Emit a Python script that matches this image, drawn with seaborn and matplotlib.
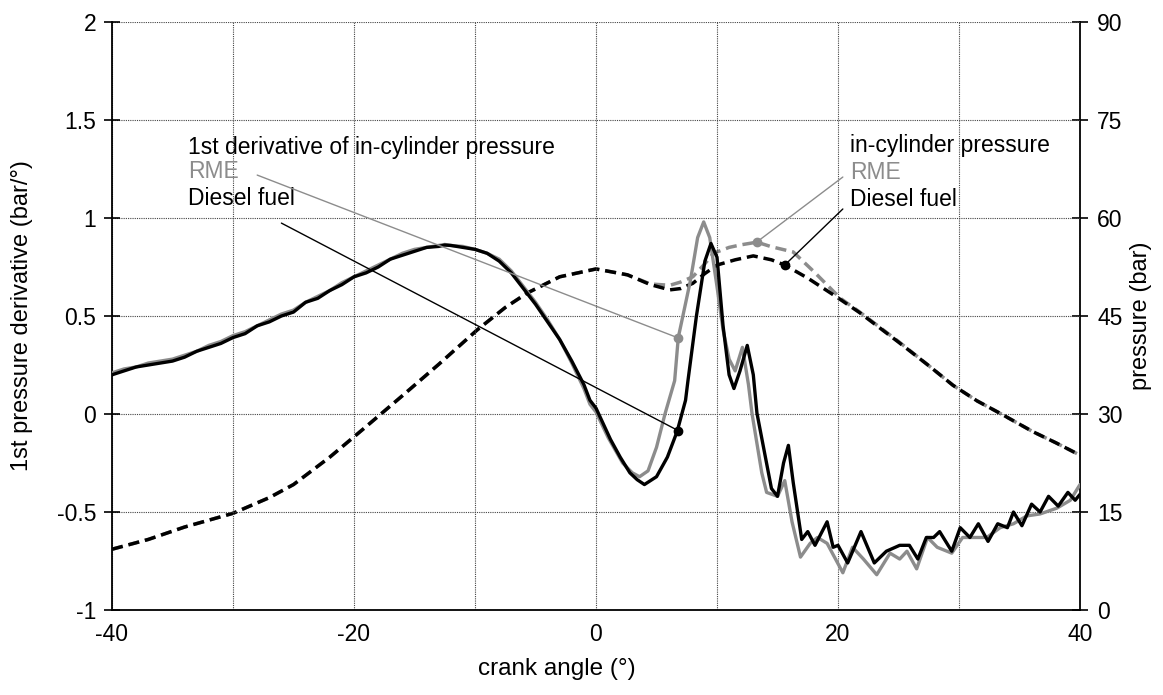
import matplotlib
matplotlib.use("Agg")
import matplotlib.pyplot as plt
import seaborn as sns
from matplotlib.ticker import MultipleLocator, FixedLocator

# ---------------- data ----------------
# 1st pressure derivative (bar/deg) - Diesel fuel
deriv_diesel_x = [-40, -39, -38, -37, -36, -35, -34, -33, -32, -31, -30, -29, -28, -27, -26, -25,
                  -24, -23, -22, -21, -20, -19, -18, -17, -16, -15, -14, -13, -12.5, -12, -11,
                  -10, -9, -8, -7, -6, -5, -4, -3, -2, -1, -0.5, 0, 1.2, 2.0, 2.8, 3.4, 4.0, 5.0, 5.9,
                  6.7, 7.4, 7.6, 8.3, 9.0, 9.5, 10.0, 10.5, 11.0, 11.4, 11.9, 12.5, 13.0, 13.3,
                  14.0, 14.5, 15.0, 15.5, 15.9, 16.3, 17.0, 17.5, 18.1, 19.1, 19.6, 20.0, 20.8,
                  21.9, 23.0, 24.0, 25.1, 25.9, 26.6, 27.3, 27.9, 28.4, 29.4, 30.1, 30.9, 31.6,
                  32.4, 33.2, 34.0, 34.5, 35.2, 36.0, 36.7, 37.4, 38.2, 39.0, 39.6, 40.0]
deriv_diesel_y = [0.20, 0.22, 0.24, 0.25, 0.26, 0.27, 0.29, 0.32, 0.34, 0.36, 0.39, 0.41, 0.45, 0.47,
                  0.50, 0.52, 0.57, 0.59, 0.63, 0.66, 0.70, 0.72, 0.75, 0.79, 0.81, 0.83, 0.85, 0.855,
                  0.862, 0.86, 0.85, 0.84, 0.82, 0.78, 0.72, 0.64, 0.56, 0.47, 0.38, 0.27, 0.15, 0.07,
                  0.03, -0.13, -0.22, -0.30, -0.335, -0.36, -0.32, -0.22, -0.09, 0.07, 0.17, 0.50, 0.78,
                  0.87, 0.80, 0.45, 0.20, 0.13, 0.22, 0.35, 0.20, 0.005, -0.22, -0.38, -0.42, -0.25,
                  -0.16, -0.35, -0.64, -0.60, -0.67, -0.55, -0.68, -0.67, -0.76, -0.60, -0.76, -0.70,
                  -0.67, -0.67, -0.74, -0.63, -0.63, -0.60, -0.70, -0.58, -0.63, -0.56, -0.65, -0.56,
                  -0.58, -0.50, -0.57, -0.46, -0.50, -0.42, -0.47, -0.40, -0.44, -0.41]

# 1st pressure derivative (bar/deg) - RME
deriv_rme_x = [-40, -39, -38, -37, -36, -35, -34, -33, -32, -31, -30, -29, -28, -27, -26, -25,
               -24, -23, -22, -21, -20, -19, -18, -17, -16, -15, -14, -13, -12.5, -12, -11,
               -10, -9, -8, -7, -6, -5, -4, -3, -2, -1, -0.5, 0, 1.0, 2.2, 3.0, 3.6, 4.3, 5.0, 5.7,
               6.5, 6.8, 7.8, 8.4, 8.9, 9.4, 10.0, 10.5, 11.0, 11.5, 12.1, 12.6, 12.9, 13.7,
               14.1, 15.0, 15.6, 16.2, 16.9, 17.7, 18.3, 19.1, 20.4, 21.2, 22.1, 23.2, 24.3,
               25.1, 25.7, 26.5, 27.4, 28.2, 29.4, 30.3, 31.2, 32.3, 33.4, 34.5, 35.6, 36.7,
               38.1, 39.2, 40.0]
deriv_rme_y = [0.21, 0.23, 0.24, 0.26, 0.27, 0.28, 0.30, 0.32, 0.35, 0.37, 0.40, 0.42, 0.45, 0.48,
               0.51, 0.53, 0.57, 0.60, 0.63, 0.67, 0.70, 0.73, 0.76, 0.79, 0.82, 0.84, 0.85, 0.86,
               0.865, 0.86, 0.855, 0.84, 0.82, 0.79, 0.73, 0.65, 0.57, 0.48, 0.38, 0.26, 0.13, 0.05,
               0.01, -0.12, -0.25, -0.30, -0.32, -0.29, -0.17, 0.00, 0.17, 0.39, 0.68, 0.90, 0.98,
               0.90, 0.65, 0.43, 0.28, 0.22, 0.34, 0.15, 0.00, -0.30, -0.40, -0.42, -0.34, -0.55,
               -0.73, -0.66, -0.63, -0.66, -0.81, -0.68, -0.74, -0.82, -0.71, -0.74, -0.70, -0.79,
               -0.63, -0.68, -0.71, -0.63, -0.63, -0.63, -0.58, -0.56, -0.52, -0.51, -0.48, -0.44,
               -0.36]

# in-cylinder pressure (bar) - Diesel fuel
press_diesel_x = [-40, -37, -34, -30, -27, -25, -22, -19.3, -16, -13, -9.8, -7.5, -5.7, -3, 0,
                  2.6, 4.5, 6.1, 7.0, 8.0, 9.0, 10.0, 11.5, 13.0, 14.5, 15.6, 17.5, 19.9, 21.8,
                  25.0, 27.5, 29.5, 31.5, 33.4, 36.1, 38.0, 40.0]
press_diesel_y = [9.3, 10.8, 12.7, 14.8, 17.2, 19.2, 23.4, 27.6, 32.8, 37.6, 42.9, 46.3, 48.5,
                  51.0, 52.2, 51.3, 49.8, 49.0, 49.2, 50.0, 51.5, 52.8, 53.6, 54.2, 53.6, 52.8,
                  50.8, 47.9, 45.5, 41.0, 37.4, 34.4, 32.0, 30.1, 27.3, 25.6, 23.7]

# in-cylinder pressure (bar) - RME
press_rme_x = [-40, -37, -34, -30, -27, -25, -22, -19.3, -16, -13, -9.8, -7.5, -5.7, -3, 0,
               2.6, 4.5, 6.1, 7.0, 8.0, 9.0, 9.7, 11.0, 12.0, 13.3, 14.5, 16.3, 18.0, 20.2,
               21.8, 25.0, 27.5, 29.5, 31.5, 33.4, 36.1, 38.0, 40.0]
press_rme_y = [9.3, 10.8, 12.7, 14.8, 17.2, 19.2, 23.4, 27.6, 32.8, 37.6, 42.9, 46.3, 48.5,
               51.0, 52.2, 51.3, 49.9, 49.7, 50.2, 51.0, 53.0, 54.6, 55.5, 55.9, 56.3, 55.6,
               54.8, 51.8, 47.7, 45.6, 41.1, 37.4, 34.4, 32.0, 30.1, 27.3, 25.6, 23.7]

x_ticks = [-40, -20, 0, 20, 40]
y_left_ticks = [-1, -0.5, 0, 0.5, 1, 1.5, 2]
y_left_labels = ["-1", "-0.5", "0", "0.5", "1", "1.5", "2"]
y_right_ticks = [0, 15, 30, 45, 60, 75, 90]

GRAY = "#8c8c8c"
BLACK = "#000000"

# ---------------- style ----------------
sns.set_style("white")
plt.rcParams["font.family"] = ["Liberation Sans", "DejaVu Sans"]
plt.rcParams["axes.unicode_minus"] = False
plt.rcParams["text.color"] = "black"
plt.rcParams["axes.labelcolor"] = "black"
plt.rcParams["xtick.color"] = "black"
plt.rcParams["ytick.color"] = "black"

fig = plt.figure(figsize=(11.63, 6.95), dpi=100)
ax = fig.add_axes([112 / 1163, 1 - 610 / 695, 968 / 1163, 588 / 695])
ax2 = ax.twinx()
ax.set_zorder(ax2.get_zorder() + 1)
ax.patch.set_visible(False)

# derivative curves (left axis)
sns.lineplot(x=deriv_rme_x, y=deriv_rme_y, ax=ax, color=GRAY, lw=2.4, sort=False,
             estimator=None, zorder=3)
sns.lineplot(x=deriv_diesel_x, y=deriv_diesel_y, ax=ax, color=BLACK, lw=2.4, sort=False,
             estimator=None, zorder=4)

# pressure curves (right axis)
sns.lineplot(x=press_rme_x, y=press_rme_y, ax=ax2, color=GRAY, lw=2.5, sort=False,
             estimator=None, zorder=3)
sns.lineplot(x=press_diesel_x, y=press_diesel_y, ax=ax2, color=BLACK, lw=2.5, sort=False,
             estimator=None, zorder=4)
for ln in ax2.get_lines():
    ln.set_linestyle((0, (3.2, 1.7)))

# limits
ax.set_xlim(-40, 40)
ax.set_ylim(-1, 2)
ax2.set_ylim(0, 90)

# ticks
ax.xaxis.set_major_locator(FixedLocator(x_ticks))
ax.xaxis.set_minor_locator(MultipleLocator(10))
ax.set_xticklabels([str(t) for t in x_ticks])
ax.set_yticks(y_left_ticks)
ax.set_yticklabels(y_left_labels)
ax2.set_yticks(y_right_ticks)
ax2.set_yticklabels([str(t) for t in y_right_ticks])

ax.tick_params(axis="both", which="major", direction="inout", length=11, width=1.2,
               labelsize=16.5, color="black", labelcolor="black")
ax.tick_params(axis="x", which="major", pad=4)
ax.tick_params(axis="y", which="major", pad=6)
ax.tick_params(axis="x", which="minor", length=0)
ax2.tick_params(axis="y", which="major", direction="inout", length=11, width=1.2,
                labelsize=16.5, pad=7, color="black", labelcolor="black")

# grid (dotted)
ax.grid(True, which="both", axis="x", color="#444444", lw=0.8, linestyle=(0, (1, 1)))
ax.grid(True, which="major", axis="y", color="#444444", lw=0.8, linestyle=(0, (1, 1)))
ax.set_axisbelow(True)

# spines
for a in (ax, ax2):
    a.spines["top"].set_visible(False)
    for s in ("left", "right", "bottom"):
        a.spines[s].set_color("black")
        a.spines[s].set_linewidth(1.3)
ax2.spines["left"].set_visible(False)
ax2.spines["bottom"].set_visible(False)
ax.spines["right"].set_visible(False)

# axis labels
ax.set_xlabel("crank angle (°)", fontsize=17.5, color="black")
ax.set_ylabel("1st pressure derivative (bar/°)", fontsize=17, color="black")
ax2.set_ylabel("pressure (bar)", fontsize=17, color="black")
ax.xaxis.set_label_coords(0.46, -0.082)
ax.yaxis.set_label_coords(-0.082, 0.5)
ax2.yaxis.set_label_coords(1.052, 0.5)

# annotations: left block
fs = 16.5
ax.text(-33.7, 1.362, "1st derivative of in-cylinder pressure", fontsize=fs, color=BLACK,
        va="center", ha="left")
ax.text(-33.7, 1.235, "RME", fontsize=fs, color=GRAY, va="center", ha="left")
ax.text(-33.7, 1.102, "Diesel fuel", fontsize=fs, color=BLACK, va="center", ha="left")
ax.plot([-28.0, 6.8], [1.219, 0.388], color=GRAY, lw=1.0, zorder=5)
ax.plot([6.8], [0.388], marker="o", ms=6, color=GRAY, zorder=6)
ax.plot([-26.0, 6.8], [0.974, -0.085], color=BLACK, lw=1.0, zorder=5)
ax.plot([6.8], [-0.085], marker="o", ms=6, color=BLACK, zorder=6)

# annotations: right block
ax.text(21.0, 1.372, "in-cylinder pressure", fontsize=fs, color=BLACK, va="center", ha="left")
ax.text(21.0, 1.232, "RME", fontsize=fs, color=GRAY, va="center", ha="left")
ax.text(21.0, 1.095, "Diesel fuel", fontsize=fs, color=BLACK, va="center", ha="left")
ax.plot([20.4, 13.3], [1.209, 0.878], color=GRAY, lw=1.0, zorder=5)
ax.plot([13.3], [0.878], marker="o", ms=6, color=GRAY, zorder=6)
ax.plot([20.4, 15.6], [1.046, 0.760], color=BLACK, lw=1.0, zorder=5)
ax.plot([15.6], [0.760], marker="o", ms=6, color=BLACK, zorder=6)

fig.savefig("out.png", dpi=100)
